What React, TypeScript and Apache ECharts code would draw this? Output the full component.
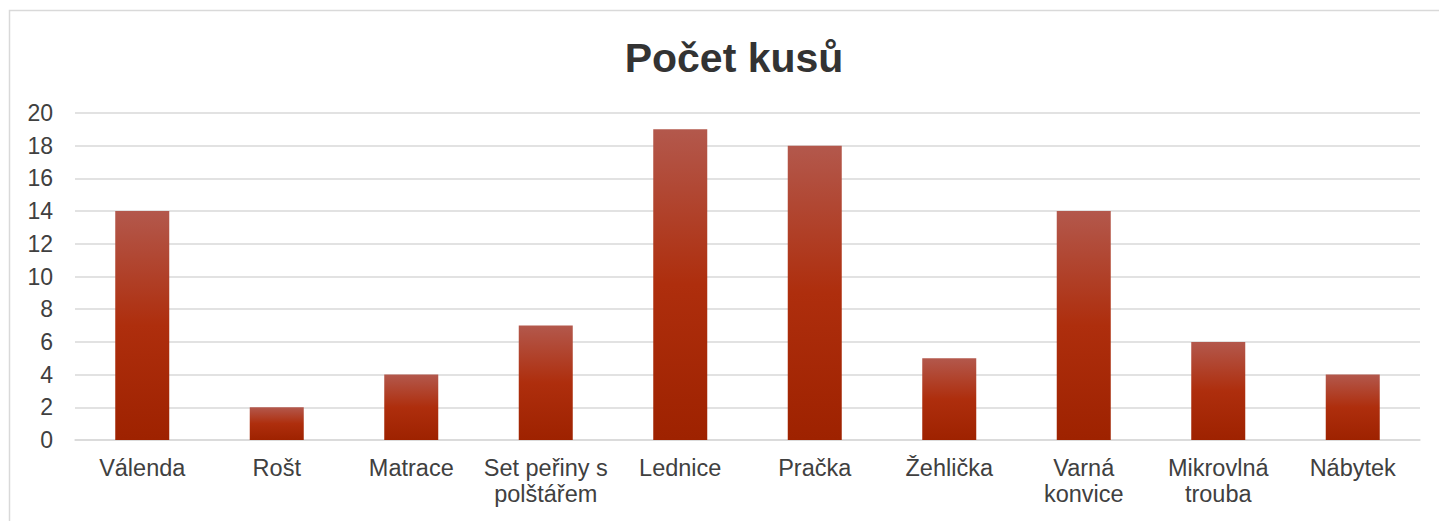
import React, { useEffect, useRef } from "react";
import * as echarts from "echarts";

const categories = [
  "Válenda",
  "Rošt",
  "Matrace",
  "Set peřiny s\npolštářem",
  "Lednice",
  "Pračka",
  "Žehlička",
  "Varná\nkonvice",
  "Mikrovlná\ntrouba",
  "Nábytek",
];
const values = [14, 2, 4, 7, 19, 18, 5, 14, 6, 4];
const title = "Počet kusů";

export default function App() {
  const ref = useRef<HTMLDivElement>(null);
  useEffect(() => {
    if (!ref.current) return;
    const chart = echarts.init(ref.current, null, { renderer: "svg" });
    const font = "'Liberation Sans', Arial, sans-serif";
    chart.setOption({
      animation: false,
      backgroundColor: "#ffffff",
      title: {
        text: title,
        left: 729,
        textAlign: "center",
        top: 32,
        textStyle: { fontFamily: font, fontSize: 41, fontWeight: "bold", color: "#333333" },
      },
      graphic: [
        {
          type: "rect",
          shape: { x: 9.5, y: 10.5, width: 1440, height: 530 },
          style: { fill: "none", stroke: "#d9d9d9", lineWidth: 1.5 },
          silent: true,
        },
      ],
      grid: { left: 75, right: 19, top: 113, bottom: 81, containLabel: false },
      xAxis: {
        type: "category",
        data: categories,
        axisLine: { show: true, lineStyle: { color: "#d9d9d9", width: 1.5 } },
        axisTick: { show: false },
        axisLabel: {
          fontFamily: font,
          fontSize: 23.5,
          color: "#404040",
          margin: 15,
          lineHeight: 26,
          interval: 0,
        },
      },
      yAxis: {
        type: "value",
        min: 0,
        max: 20,
        interval: 2,
        axisLine: { show: false },
        axisTick: { show: false },
        splitLine: { lineStyle: { color: "#d9d9d9", width: 1.5 } },
        axisLabel: { fontFamily: font, fontSize: 23, color: "#404040", margin: 22 },
      },
      series: [
        {
          type: "bar",
          data: values,
          barWidth: 54,
          itemStyle: {
            color: new echarts.graphic.LinearGradient(0, 0, 0, 1, [
              { offset: 0, color: "#B3584C" },
              { offset: 0.5, color: "#AE2E0D" },
              { offset: 1, color: "#9E2200" },
            ]),
          },
        },
      ],
    });
    return () => chart.dispose();
  }, []);
  return (
    <div
      ref={ref}
      style={{ position: "absolute", left: 0, top: 0, width: 1439, height: 521 }}
    />
  );
}
